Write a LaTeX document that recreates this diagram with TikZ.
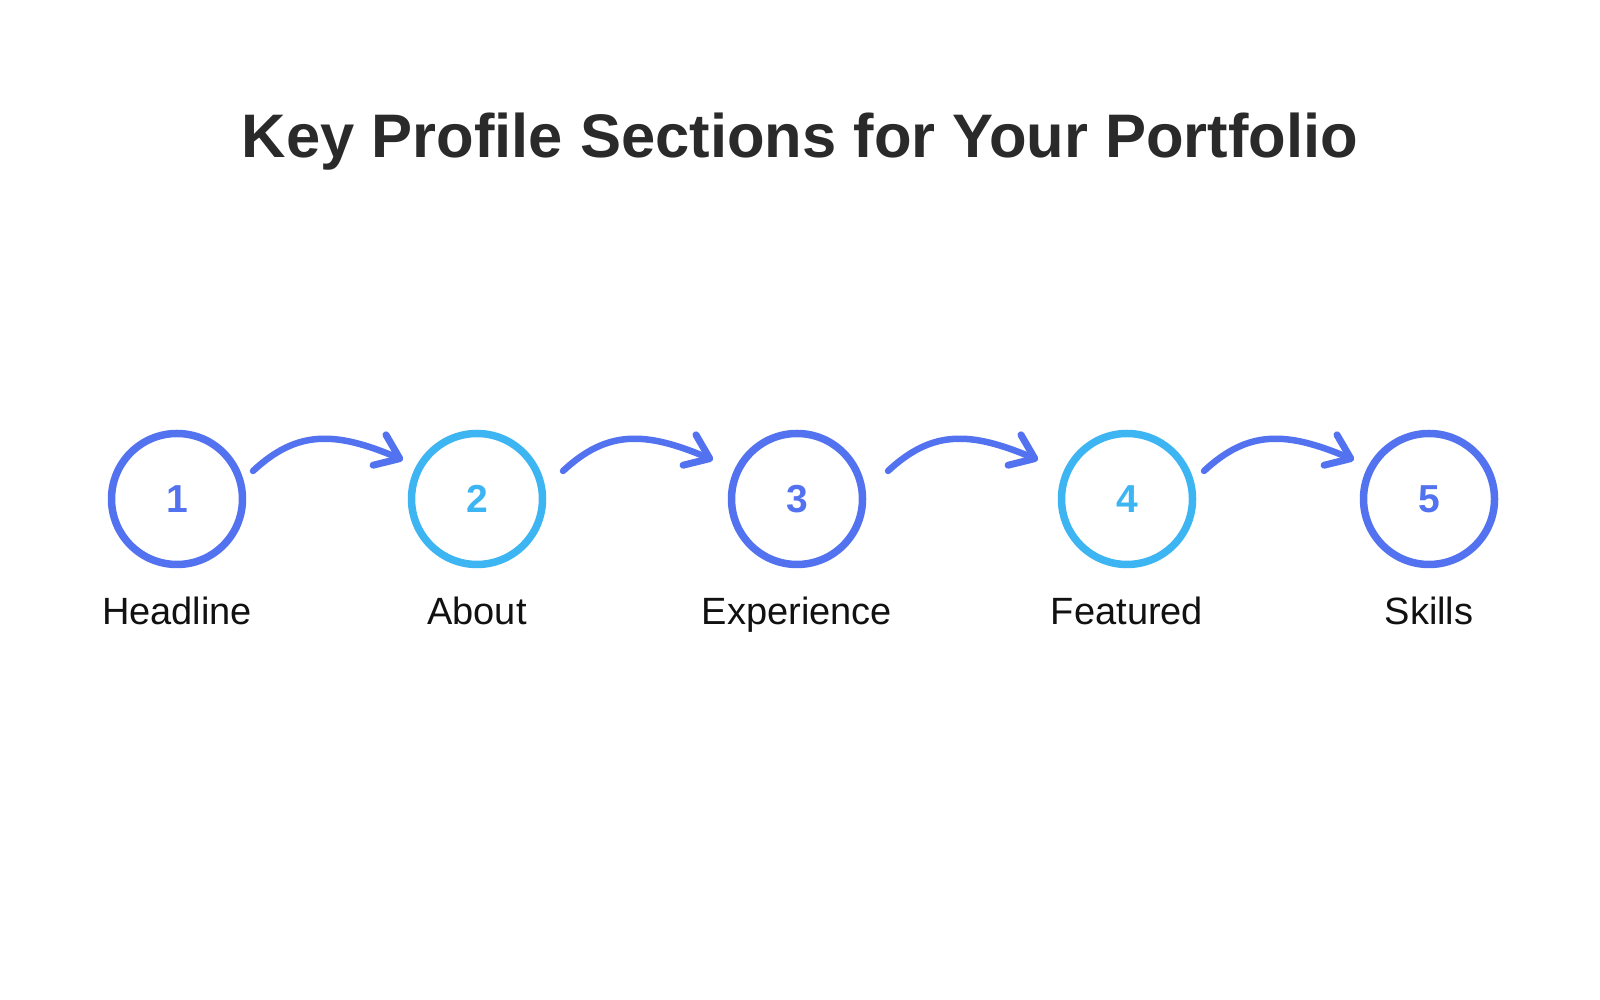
\documentclass[tikz,border=0pt]{standalone}
\usepackage{fontspec}
\setmainfont{Liberation Sans}
\usetikzlibrary{calc,arrows.meta}
\definecolor{cdark}{HTML}{5372F0}
\definecolor{clight}{HTML}{3DB5F3}
\definecolor{ctitle}{HTML}{2A2A2A}
\definecolor{clabel}{HTML}{111111}
\begin{document}
\begin{tikzpicture}[x=1pt,y=1pt,
  circ/.style={circle,draw=#1,text=#1,line width=7.5pt,minimum size=131pt,inner sep=0pt,
    font=\fontsize{39}{40}\selectfont\bfseries},
  lbl/.style={anchor=base,text=clabel,font=\fontsize{38}{40}\selectfont},
  flow/.style={draw=cdark,line width=6.5pt,line cap=round,
    -{Straight Barb[length=22pt,width=33pt,line width=7pt,round]}}]
\useasboundingbox (0,0) rectangle (1600,1000);
\fill[white] (0,0) rectangle (1600,1000);
\node[anchor=base,text=ctitle,font=\fontsize{61.5}{70}\selectfont\bfseries] (title) at (800,842) {Key Profile Sections for Your Portfolio};
\node[circ=cdark]  (c1) at (177,501) {1};
\node[circ=clight] (c2) at (477,501) {2};
\node[circ=cdark]  (c3) at (797,501) {3};
\node[circ=clight] (c4) at (1127,501) {4};
\node[circ=cdark]  (c5) at (1429,501) {5};
\node[lbl] (l1) at (177,375) {Headline};
\node[lbl] (l2) at (477,375) {About};
\node[lbl] (l3) at (797,375) {Experience};
\node[lbl] (l4) at (1127,375) {Featured};
\node[lbl] (l5) at (1429,375) {Skills};
\foreach \i/\j in {1/2,2/3,3/4,4/5}{
  \coordinate (s\i) at ($(c\i)!0.5!(c\j)+(-74,28)$);
  \coordinate (e\i) at ($(c\i)!0.5!(c\j)+(76,39)$);
  \draw[flow] (s\i) to[out=43,in=157,out distance=60pt,in distance=74pt] (e\i);
}
\end{tikzpicture}
\end{document}
